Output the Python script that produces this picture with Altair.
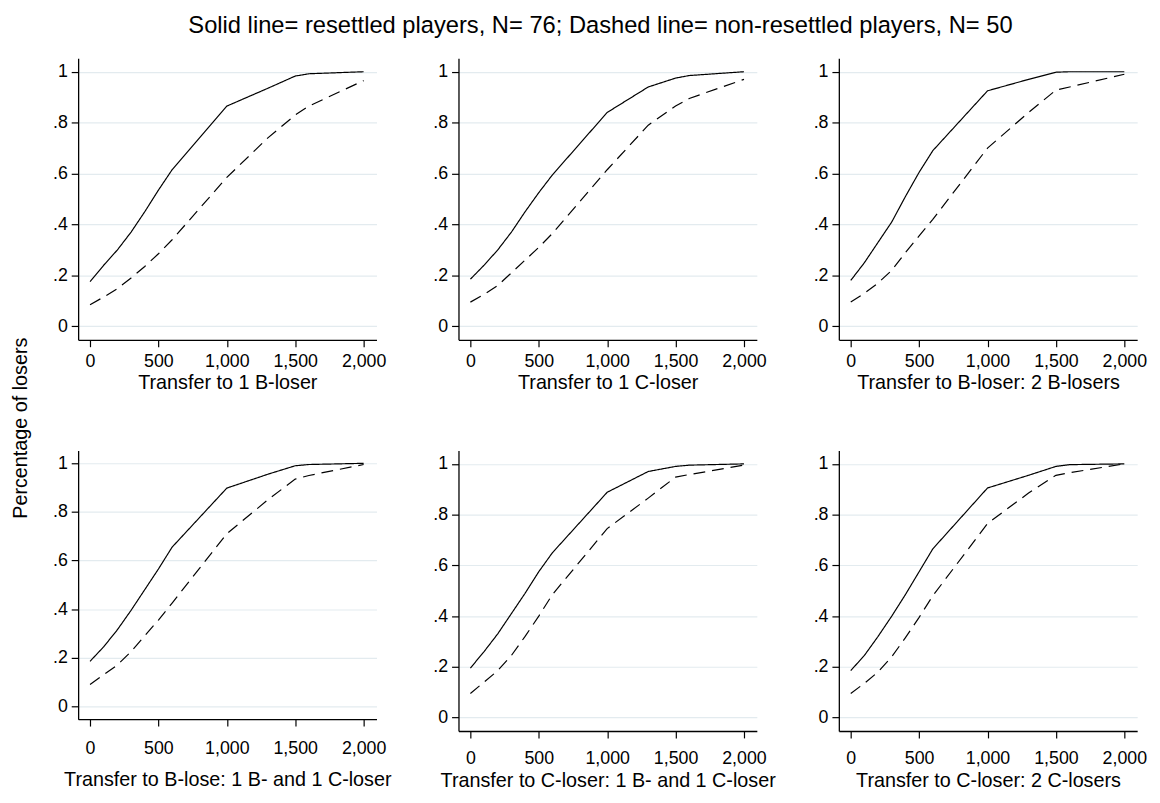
import altair as alt
import pandas as pd

# Transfer amounts (x) at which the cumulative shares were observed
x_vals = [0, 100, 200, 300, 400, 500, 600, 1000, 1300, 1500, 1600, 2000]
x_ticks = [0, 500, 1000, 1500, 2000]
y_ticks = [0, 0.2, 0.4, 0.6, 0.8, 1.0]

panel_titles = [
    "Transfer to 1 B-loser",
    "Transfer to 1 C-loser",
    "Transfer to B-loser: 2 B-losers",
    "Transfer to B-lose: 1 B- and 1 C-loser",
    "Transfer to C-loser: 1 B- and 1 C-loser",
    "Transfer to C-loser: 2 C-losers",
]

# Solid line = resettled players (N=76)
solid_1 = [0.175, 0.24, 0.30, 0.37, 0.45, 0.535, 0.615, 0.865, 0.935, 0.983, 0.992, 1.0]
solid_2 = [0.185, 0.24, 0.30, 0.37, 0.45, 0.525, 0.595, 0.84, 0.94, 0.975, 0.985, 1.0]
solid_3 = [0.18, 0.25, 0.33, 0.41, 0.51, 0.605, 0.69, 0.925, 0.97, 0.998, 1.0, 1.0]
solid_4 = [0.185, 0.245, 0.315, 0.395, 0.48, 0.565, 0.655, 0.898, 0.955, 0.99, 0.995, 1.0]
solid_5 = [0.195, 0.26, 0.33, 0.41, 0.49, 0.575, 0.65, 0.888, 0.97, 0.99, 0.995, 1.0]
solid_6 = [0.185, 0.245, 0.32, 0.40, 0.485, 0.575, 0.665, 0.905, 0.955, 0.99, 0.997, 1.0]

# Dashed line = non-resettled players (N=50)
dashed_1 = [0.085, 0.115, 0.148, 0.19, 0.235, 0.285, 0.34, 0.585, 0.74, 0.83, 0.865, 0.965]
dashed_2 = [0.095, 0.125, 0.16, 0.21, 0.26, 0.31, 0.365, 0.615, 0.79, 0.865, 0.895, 0.97]
dashed_3 = [0.095, 0.13, 0.17, 0.22, 0.29, 0.355, 0.42, 0.70, 0.84, 0.928, 0.94, 0.99]
dashed_4 = [0.09, 0.13, 0.17, 0.225, 0.29, 0.355, 0.425, 0.71, 0.85, 0.935, 0.95, 0.995]
dashed_5 = [0.095, 0.14, 0.185, 0.245, 0.32, 0.40, 0.485, 0.745, 0.865, 0.948, 0.958, 0.995]
dashed_6 = [0.095, 0.135, 0.18, 0.24, 0.315, 0.395, 0.48, 0.765, 0.885, 0.955, 0.965, 1.0]

solids = [solid_1, solid_2, solid_3, solid_4, solid_5, solid_6]
dasheds = [dashed_1, dashed_2, dashed_3, dashed_4, dashed_5, dashed_6]
heights = [285, 285, 285, 272, 284, 284]
label_pads = [6, 6, 6, 14, 12, 12]
title_pads = [2, 2, 2, 12, 3, 3]

FONT = "Liberation Sans"
Y_LABELS = "datum.value == 0 ? '0' : datum.value == 1 ? '1' : '.' + format(datum.value * 10, 'd')"


def panel(i):
    n = len(x_vals)
    df = pd.DataFrame({
        "transfer": x_vals * 2,
        "share": solids[i] + dasheds[i],
        "group": ["resettled"] * n + ["non-resettled"] * n,
    })
    if i == 0:
        y_axis = alt.Axis(values=y_ticks, labelExpr=Y_LABELS, grid=True,
                          title="Percentage of losers", titleX=-52, titleY=374,
                          titleAngle=270, titleBaseline="alphabetic")
    else:
        y_axis = alt.Axis(values=y_ticks, labelExpr=Y_LABELS, grid=True, title=None)
    return alt.Chart(df).mark_line(color="black", strokeWidth=1.2).encode(
        x=alt.X("transfer:Q",
                scale=alt.Scale(domain=[-87, 2094], nice=False, zero=False),
                axis=alt.Axis(values=x_ticks, labelExpr="format(datum.value, ',d')",
                              grid=False, title=panel_titles[i],
                              labelPadding=label_pads[i], titlePadding=title_pads[i])),
        y=alt.Y("share:Q",
                scale=alt.Scale(domain=[-0.053, 1.053], nice=False, zero=False),
                axis=y_axis),
        strokeDash=alt.StrokeDash("group:N",
                                  scale=alt.Scale(domain=["resettled", "non-resettled"],
                                                  range=[[1, 0], [12, 7]]),
                                  legend=None),
    ).properties(width=302, height=heights[i])


chart = alt.concat(
    *[panel(i) for i in range(6)],
    columns=3,
    spacing={"row": 112, "column": 83},
    bounds="flush",
).properties(
    title=alt.TitleParams(
        "Solid line= resettled players, N= 76; Dashed line= non-resettled players, N= 50",
        font=FONT, fontSize=24, fontWeight="normal", color="black",
        anchor="middle", offset=21, dx=22),
    padding={"left": 3, "top": 1, "right": 5, "bottom": 5},
).configure_view(stroke=None).configure_axis(
    labelFont=FONT, labelFontSize=18, labelColor="black",
    titleFont=FONT, titleFontSize=20, titleFontWeight="normal", titleColor="black",
    domainColor="black", domainWidth=1.3, tickColor="black", tickWidth=1.2,
    tickSize=7, gridColor="#E3EBEF", gridWidth=1.2,
).configure_axisY(labelAngle=0, labelPadding=4)

chart.save("out.html", embed_options={"renderer": "svg", "actions": False})
